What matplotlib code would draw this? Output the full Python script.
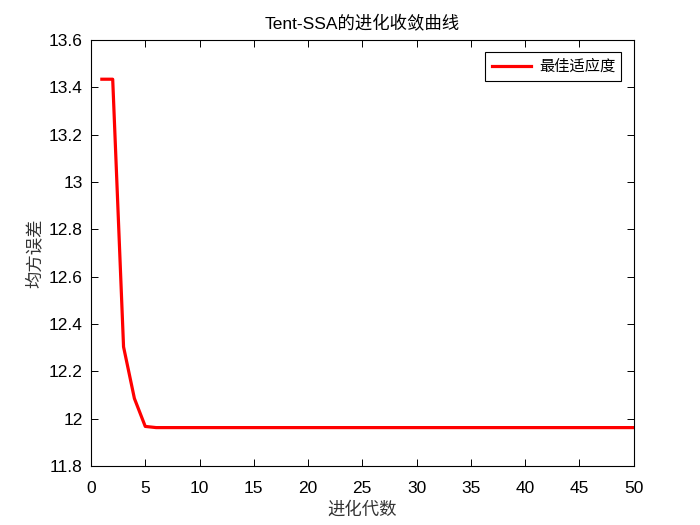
import matplotlib
matplotlib.use("Agg")
import matplotlib.pyplot as plt
import numpy as np

# convergence curve of Tent-SSA
generations = list(range(1, 51))
best_fitness = [13.434, 13.434, 12.304, 12.086, 11.968] + [11.963] * 45

title_text = "Tent-SSA的进化收敛曲线"
x_label = "进化代数"
y_label = "均方误差"
legend_label = "最佳适应度"

plt.rcParams['font.family'] = ['Liberation Sans', 'Noto Sans CJK SC']

fig = plt.figure(figsize=(7, 5.25), dpi=100)
ax = fig.add_axes([0.13, 0.112, 0.775, 0.812])

ax.plot(generations, best_fitness, color='#ff0000', linewidth=2.3, label=legend_label)

ax.set_xlim(0, 50)
ax.set_ylim(11.8, 13.6)
ax.set_xticks(np.arange(0, 51, 5))
ax.set_yticks(np.arange(11.8, 13.61, 0.2))
ax.set_yticklabels(["11.8", "12", "12.2", "12.4", "12.6", "12.8", "13", "13.2", "13.4", "13.6"])
ax.tick_params(direction='in', top=True, right=True, labelsize=12.5, length=5, width=0.7)
ax.tick_params(axis='x', pad=11)
ax.tick_params(axis='y', pad=6)
for s in ax.spines.values():
    s.set_linewidth(0.8)

cjk = ['Noto Sans CJK SC', 'Liberation Sans']
ax.set_title(title_text, fontsize=12.5, family=['Liberation Sans', 'Noto Sans CJK SC'], pad=8)
ax.set_xlabel(x_label, fontsize=12.5, family=cjk, color='#333333', labelpad=3)
ax.set_ylabel(y_label, fontsize=12.5, family=cjk, color='#333333', labelpad=4)

leg = ax.legend(loc='upper right', prop={'family': cjk, 'size': 11}, fancybox=False,
                edgecolor='black', framealpha=1, handlelength=2.6, handletextpad=0.5,
                borderaxespad=0.8)
leg.get_frame().set_linewidth(0.8)

fig.savefig("out.png")
